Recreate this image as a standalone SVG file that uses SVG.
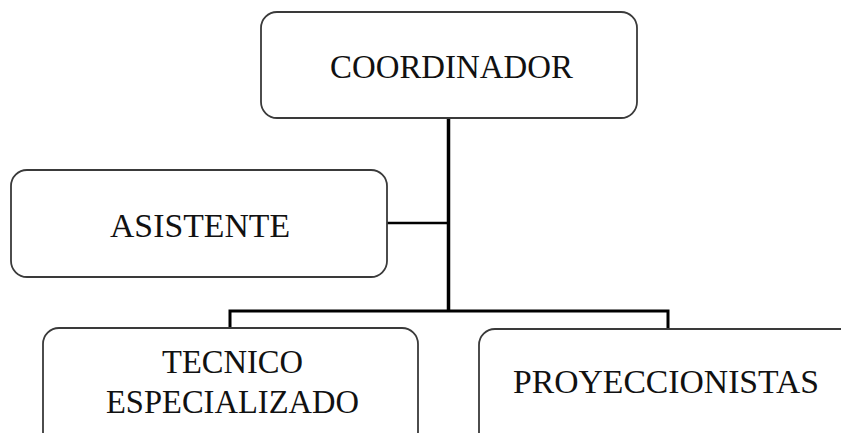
<svg xmlns="http://www.w3.org/2000/svg" width="841" height="433" viewBox="0 0 841 433">
<style>
.box{fill:#fff;stroke:#3a3a3a;stroke-width:1.8}
.lbl{font-family:"Liberation Serif","Times New Roman",serif;font-size:34px;fill:#111}
.con{stroke:#000;fill:none}
</style>
<rect width="841" height="433" fill="#fff"/>
<g id="connectors">
<line class="con" x1="448.5" y1="118" x2="448.5" y2="312" stroke-width="3.5"/>
<line class="con" x1="387" y1="223" x2="448" y2="223" stroke-width="2.5"/>
<polyline class="con" points="230,328 230,311 668,311 668,329" stroke-width="3"/>
</g>
<g id="coordinador">
<rect class="box" x="261" y="12" width="376" height="106" rx="16"/>
<text class="lbl" x="330" y="78" textLength="243" lengthAdjust="spacingAndGlyphs">COORDINADOR</text>
</g>
<g id="asistente">
<rect class="box" x="11" y="170" width="376" height="107" rx="16"/>
<text class="lbl" x="110" y="237" textLength="180" lengthAdjust="spacingAndGlyphs">ASISTENTE</text>
</g>
<g id="tecnico">
<rect class="box" x="43" y="328" width="375" height="120" rx="16"/>
<text class="lbl" x="162" y="373" textLength="141" lengthAdjust="spacingAndGlyphs">TECNICO</text>
<text class="lbl" x="106" y="413" textLength="253" lengthAdjust="spacingAndGlyphs">ESPECIALIZADO</text>
</g>
<g id="proyeccionistas">
<rect class="box" x="479" y="329" width="380" height="120" rx="16"/>
<text class="lbl" x="513" y="393" textLength="306" lengthAdjust="spacingAndGlyphs">PROYECCIONISTAS</text>
</g>
</svg>
